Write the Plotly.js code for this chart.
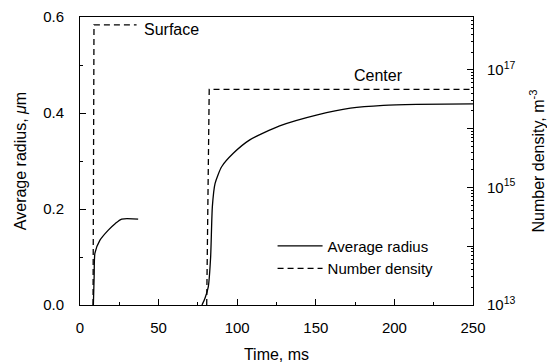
<!DOCTYPE html>
<html>
<head>
<meta charset="utf-8">
<script src="https://cdn.plot.ly/plotly-3.0.1.min.js"></script>
<style>html,body{margin:0;padding:0;background:#fff}#chart{width:547px;height:364px}</style>
</head>
<body>
<div id="chart"></div>
<script>
// Average radius (µm) – surface region
const surfRadiusT = [8.5, 9.0, 9.5, 12.7, 18, 22.5, 26.5, 37];
const surfRadiusR = [0, 0.06, 0.108, 0.135, 0.156, 0.170, 0.179, 0.179];
// Average radius (µm) – center region
const centRadiusT = [77.6, 79.5, 81.6, 83.1, 84.2, 85.9, 90.1, 97.5, 108, 127, 151, 172, 193, 214, 250];
const centRadiusR = [0, 0.014, 0.038, 0.1, 0.205, 0.253, 0.288, 0.316, 0.344, 0.373, 0.396, 0.41, 0.416, 0.418, 0.419];
// Number density (m^-3) – surface and center
const surfDensT = [8.3, 8.9, 36];
const surfDensN = [1e13, 5.8e17, 5.8e17];
const centDensT = [80.6, 82.2, 250];
const centDensN = [1e13, 4.66e16, 4.66e16];
// Tick labels
const xTicks = [0, 50, 100, 150, 200, 250];
const yTicks = [0, 0.2, 0.4, 0.6];
const y2TickVals = [1e13, 1e14, 1e15, 1e16, 1e17];
const y2TickText = ['10<sup>13</sup>', '', '10<sup>15</sup>', '', '10<sup>17</sup>'];

const y2Minor = [];
for (let e = 13; e <= 17; e++) for (let m = 2; m <= 9; m++) y2Minor.push(m * Math.pow(10, e));

const FONT = 'Liberation Sans, Arial, sans-serif';
const solid = {color: '#000', width: 1.3, shape: 'spline', smoothing: 0.6};
const dashed = {color: '#000', width: 1.3, dash: '6px,4px'};

const data = [
  {x: surfRadiusT, y: surfRadiusR, mode: 'lines', line: solid, name: 'Average radius', showlegend: true},
  {x: centRadiusT, y: centRadiusR, mode: 'lines', line: solid, name: 'Average radius', showlegend: false},
  {x: surfDensT, y: surfDensN, yaxis: 'y2', mode: 'lines', line: dashed, name: 'Number density', showlegend: true},
  {x: centDensT, y: centDensN, yaxis: 'y2', mode: 'lines', line: dashed, name: 'Number density', showlegend: false}
];

const layout = {
  width: 547, height: 364,
  margin: {l: 80, r: 74, t: 17, b: 59},
  paper_bgcolor: '#fff', plot_bgcolor: '#fff',
  font: {family: FONT, size: 15, color: '#000'},
  showlegend: true,
  legend: {x: 0.49, y: 0.262, xanchor: 'left', yanchor: 'top', bgcolor: 'rgba(0,0,0,0)',
           font: {family: FONT, size: 15, color: '#000'}, tracegroupgap: 0, itemwidth: 45},
  xaxis: {
    range: [0, 250], tickvals: xTicks, ticks: 'inside', ticklen: 6, tickcolor: '#000',
    showline: true, linecolor: '#000', linewidth: 1, mirror: true, showgrid: false, zeroline: false,
    minor: {dtick: 25, ticks: 'inside', ticklen: 3, tickcolor: '#000', showgrid: false},
    ticklabelstandoff: 9,
    title: {text: 'Time, ms', standoff: 13, font: {family: FONT, size: 16}}
  },
  yaxis: {
    range: [0, 0.6], tickvals: yTicks, tickformat: '.1f', ticks: 'inside', ticklen: 6, tickcolor: '#000',
    showline: true, linecolor: '#000', linewidth: 1, showgrid: false, zeroline: false,
    minor: {dtick: 0.1, ticks: 'inside', ticklen: 3, tickcolor: '#000', showgrid: false},
    ticklabelstandoff: 12,
    title: {text: 'Average radius, <i>μ</i>m', standoff: 12, font: {family: FONT, size: 16}}
  },
  yaxis2: {
    type: 'log', range: [13, 17.898], overlaying: 'y', side: 'right',
    tickvals: y2TickVals, ticktext: y2TickText, ticks: 'inside', ticklen: 6, tickcolor: '#000',
    showline: true, linecolor: '#000', linewidth: 1, showgrid: false, zeroline: false,
    minor: {tickvals: y2Minor, ticks: 'inside', ticklen: 2, tickcolor: '#000', showgrid: false},
    ticklabelstandoff: 10,
    title: {text: 'Number density, m<sup>-3</sup>', standoff: 20, font: {family: FONT, size: 16}}
  },
  annotations: [
    {x: 58.5, y: 0.573, xref: 'x', yref: 'y', text: 'Surface', showarrow: false, font: {family: FONT, size: 16}},
    {x: 190, y: 0.479, xref: 'x', yref: 'y', text: 'Center', showarrow: false, font: {family: FONT, size: 16}}
  ]
};

Plotly.newPlot('chart', data, layout, {displayModeBar: false, staticPlot: true});
</script>
</body>
</html>
